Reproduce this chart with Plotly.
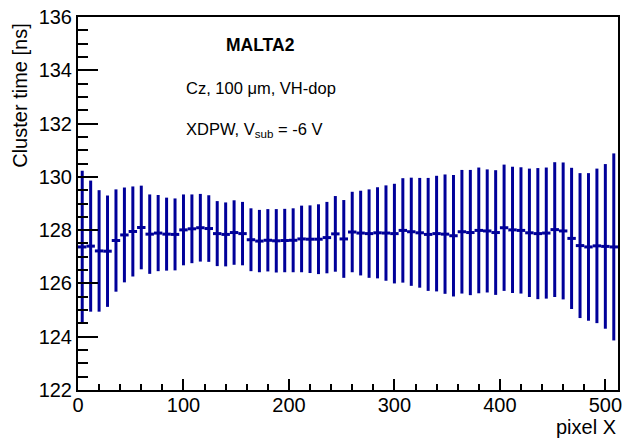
import numpy as np
import plotly.graph_objects as go

# bin centres (8-pixel bins over 512 columns)
pixel_x = np.arange(4, 512, 8)

cluster_time = [
    127.37, 127.40, 127.22, 127.21, 127.61, 127.82, 127.95, 128.10,
    127.85, 127.89, 127.85, 127.84, 128.01, 128.05, 128.09, 128.06,
    127.87, 127.84, 127.91, 127.87, 127.64, 127.59, 127.62, 127.60,
    127.61, 127.62, 127.67, 127.66, 127.66, 127.72, 127.86, 127.67,
    127.93, 127.89, 127.87, 127.90, 127.89, 127.87, 127.99, 127.94,
    127.90, 127.84, 127.87, 127.85, 127.79, 127.94, 127.91, 127.99,
    127.97, 127.91, 128.09, 128.01, 127.99, 127.90, 127.87, 127.89,
    128.02, 127.97, 127.69, 127.42, 127.37, 127.41, 127.39, 127.37,
]

cluster_err = [
    2.86, 2.46, 2.28, 2.09, 1.92, 1.78, 1.69, 1.57,
    1.49, 1.43, 1.37, 1.35, 1.33, 1.29, 1.27, 1.25,
    1.22, 1.20, 1.21, 1.19, 1.18, 1.17, 1.17, 1.19,
    1.19, 1.20, 1.25, 1.27, 1.31, 1.34, 1.42, 1.46,
    1.51, 1.59, 1.66, 1.71, 1.79, 1.87, 1.96, 2.03,
    2.06, 2.12, 2.17, 2.24, 2.28, 2.32, 2.35, 2.36,
    2.31, 2.34, 2.37, 2.37, 2.37, 2.41, 2.46, 2.46,
    2.53, 2.57, 2.65, 2.72, 2.77, 2.90, 3.09, 3.51,
]

blue = "#000099"
font = "Liberation Sans, Arial, sans-serif"

fig = go.Figure(go.Scatter(
    x=pixel_x, y=cluster_time,
    mode="markers",
    marker=dict(size=1, color=blue),
    error_y=dict(type="data", array=cluster_err, width=0, thickness=3, color=blue),
    error_x=dict(type="constant", value=4, width=0, thickness=3, color=blue),
    showlegend=False,
))

fig.update_layout(
    width=627, height=440,
    margin=dict(l=78, r=5, t=17, b=50),
    plot_bgcolor="white", paper_bgcolor="white",
    font=dict(family=font, size=20, color="black"),
    xaxis=dict(
        range=[0, 512], showgrid=False, zeroline=False,
        showline=True, linecolor="black", linewidth=2, mirror=True,
        ticks="inside", ticklen=11, tickwidth=1.5, tickcolor="black",
        tick0=0, dtick=100, ticklabelstandoff=-4,
        minor=dict(ticks="inside", dtick=20, ticklen=6, tickcolor="black", tickwidth=1.5),
    ),
    yaxis=dict(
        range=[122, 136], showgrid=False, zeroline=False,
        showline=True, linecolor="black", linewidth=2, mirror=True,
        ticks="inside", ticklen=20, tickwidth=1.5, tickcolor="black",
        tick0=122, dtick=2,
        minor=dict(ticks="inside", dtick=0.5, ticklen=10, tickcolor="black", tickwidth=1.5),
    ),
    annotations=[
        dict(text="<b>MALTA2</b>", x=0.338, y=0.924, xref="paper", yref="paper",
             xanchor="center", yanchor="middle", showarrow=False, font=dict(size=17.5)),
        dict(text="Cz, 100 \u03bcm, VH-dop", x=0.197, y=0.809, xref="paper", yref="paper",
             xanchor="left", yanchor="middle", showarrow=False, font=dict(size=16.5)),
        dict(text="XDPW, V<sub>sub</sub> = -6 V", x=0.197, y=0.696, xref="paper", yref="paper",
             xanchor="left", yanchor="middle", showarrow=False, font=dict(size=16.5)),
        dict(text="pixel X", x=1.0, y=-0.1, xref="paper", yref="paper",
             xanchor="right", yanchor="middle", showarrow=False, font=dict(size=20)),
        dict(text="Cluster time [ns]", x=-0.1066, y=0.79, xref="paper", yref="paper",
             xanchor="center", yanchor="middle",
             textangle=-90, showarrow=False, font=dict(size=20)),
    ],
)

fig.write_html("out.html", config={"displayModeBar": False},
               post_script="document.body.style.margin='0';")
